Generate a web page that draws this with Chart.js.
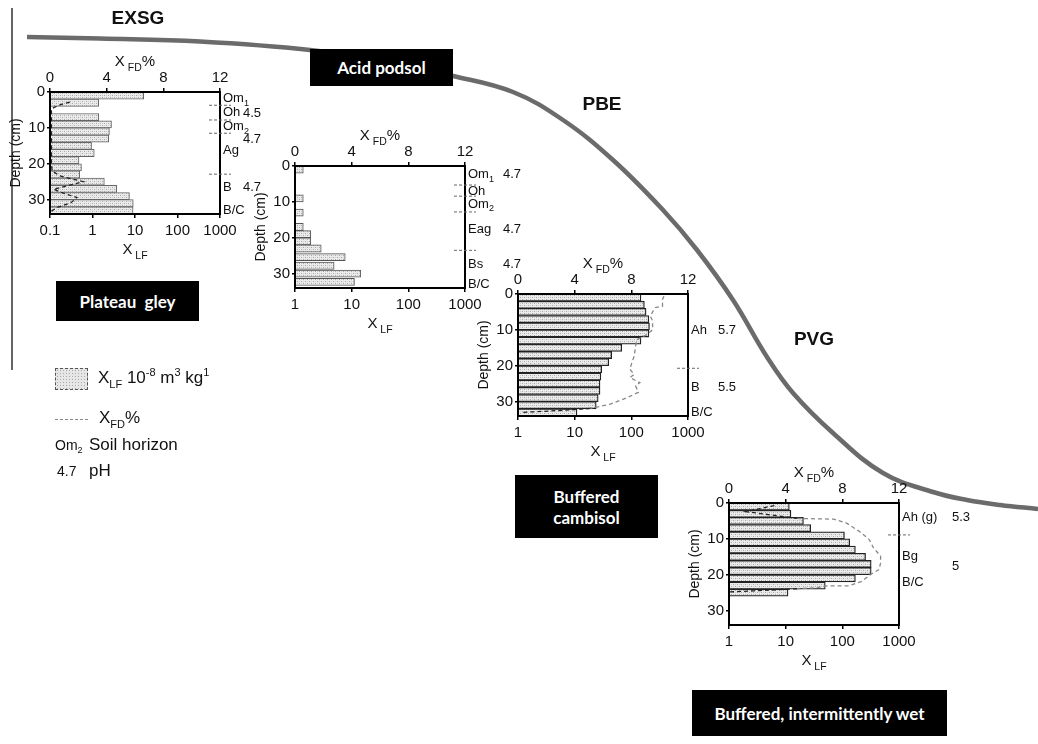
<!DOCTYPE html>
<html>
<head>
<meta charset="utf-8">
<script src="https://cdn.jsdelivr.net/npm/chart.js@4.4.0/dist/chart.umd.min.js"></script>
<style>
  body { margin: 0; background: #fff; width: 1038px; height: 744px; overflow: hidden; position: relative; font-family: "Liberation Sans", Arial, sans-serif; color: #111; }
  canvas { position: absolute; }
  .site { position: absolute; font-weight: bold; font-size: 19px; transform: translate(-50%, -50%); }
  .box { position: absolute; background: #000; color: #fff; font-family: Lato, sans-serif; font-weight: bold; font-size: 17px; line-height: 21px; display: flex; align-items: center; justify-content: center; text-align: center; }
  .leg { position: absolute; font-size: 17px; white-space: nowrap; transform: translateY(-50%); }
  .leg.small { font-size: 14px; }
  .leg sub, .leg sup { font-size: 11px; }
  .leg.small sub { font-size: 9px; }
  .swatch { position: absolute; left: 55px; top: 368px; width: 31px; height: 20px; border: 1px dashed #555;
    background-color: #e6e6e6; background-image: radial-gradient(#aaa 0.7px, transparent 0.8px); background-size: 3px 3px; }
  .dash { position: absolute; left: 55px; top: 419px; width: 33px; border-top: 1px dashed #888; }
</style>
</head>
<body>
<canvas id="bg" width="1038" height="744" style="left:0;top:0"></canvas>
<canvas id="gley"></canvas>
<canvas id="podsol"></canvas>
<canvas id="cambisol"></canvas>
<canvas id="wet"></canvas>

<div class="site" style="left:138px;top:18px">EXSG</div>
<div class="site" style="left:602px;top:104px">PBE</div>
<div class="site" style="left:814px;top:339px">PVG</div>

<div class="box" style="left:310px;top:49px;width:143px;height:37px">Acid podsol</div>
<div class="box" style="left:56px;top:281px;width:143px;height:40px;word-spacing:4px">Plateau gley</div>
<div class="box" style="left:515px;top:475px;width:143px;height:63px">Buffered<br>cambisol</div>
<div class="box" style="left:692px;top:690px;width:255px;height:46px">Buffered, intermittently wet</div>

<div class="swatch"></div>
<div class="leg" style="left:98px;top:378px">X<sub>LF</sub> 10<sup>-8</sup> m<sup>3</sup> kg<sup>1</sup></div>
<div class="dash"></div>
<div class="leg" style="left:99px;top:419px">X<sub>FD</sub>%</div>
<div class="leg small" style="left:55px;top:446px">Om<sub>2</sub></div>
<div class="leg" style="left:89px;top:445px">Soil horizon</div>
<div class="leg small" style="left:57px;top:471px">4.7</div>
<div class="leg" style="left:89px;top:471px">pH</div>

<script>
// shared axis ticks
const depthTicks = [0, 10, 20, 30];
const fdTicks = [0, 4, 8, 12];
const lfTicks = [0.1, 1, 10, 100, 1000];

// slope line across the landscape (page px)
const slopeX = [27, 100, 200, 310, 380, 453, 513, 563, 613, 663, 697, 733, 767, 793, 833, 883, 933, 967, 1000, 1038];
const slopeY = [37, 38.5, 41.5, 50, 61, 76, 92, 120, 160, 210, 250, 300, 357, 393, 433, 473, 492, 500, 505, 509];
const frameX = [12, 12];
const frameY = [8, 370];

// plateau gley
const gleyDepth = [1, 3, 7, 9, 11, 13, 15, 17, 19, 21, 23, 25, 27, 29, 31, 33];
const gleyLF = [16, 1.4, 1.4, 2.8, 2.5, 2.4, 0.95, 1.1, 0.48, 0.55, 0.5, 1.9, 3.7, 7.4, 9.1, 9.0];
const gleyFdDepth = [2.8, 3.7, 4.7, 10, 20, 22, 23.4, 25, 26.2, 27.1, 28, 29.4, 30.8, 32.2, 33.2];
const gleyFd = [1.4, 0.6, 0.1, 0.1, 0.1, 0.15, 0.7, 2.35, 1.2, 0.25, 0.8, 1.9, 1.5, 0.5, 0.1];
const gleyHorizon = ['Om_{1}', 'Oh', 'Om_{2}', 'Ag', 'B', 'B/C'];
const gleyHorizonDepth = [1.7, 5.6, 9.6, 16.4, 26.6, 33.1];
const gleyPH = ['4.5', '4.7', '4.7'];
const gleyPHDepth = [6.0, 13.1, 26.6];
const gleyBounds = [3.7, 7.8, 11.5, 22.9];

// acid podsol
const podsolDepth = [1, 9, 13, 17, 19, 21, 23, 25.4, 27.8, 30, 32.3];
const podsolLF = [1.4, 1.4, 1.4, 1.4, 1.9, 1.9, 2.9, 7.7, 4.9, 14.5, 11.2];
const podsolFdDepth = [];
const podsolFd = [];
const podsolHorizon = ['Om_{1}', 'Oh', 'Om_{2}', 'Eag', 'Bs', 'B/C'];
const podsolHorizonDepth = [2.4, 7, 10.6, 17.6, 27.4, 33];
const podsolPH = ['4.7', '4.7', '4.7'];
const podsolPHDepth = [2.4, 17.6, 27.4];
const podsolBounds = [5.3, 8.4, 12.8, 23.5];

// buffered cambisol
const cambDepth = [1, 3, 5, 7, 9, 11, 13, 15, 17, 19, 21, 23, 25, 27, 29, 31, 33];
const cambLF = [148, 170, 182, 204, 209, 204, 148, 68, 45, 40, 30, 29, 28, 28, 26, 24, 11];
const cambFdDepth = [0.6, 1.5, 3.4, 3.8, 5, 6.2, 7.5, 10, 11.5, 12.7, 14.5, 17.3, 19.6, 21, 22.4, 23.3, 24.7, 25.6, 27.4, 28.9, 30.7, 31.9, 32.3, 32.8, 33];
const cambFd = [10.3, 10.2, 10.2, 9.7, 9.5, 9.35, 9.5, 9.5, 9.0, 8.4, 8.3, 8.2, 8.0, 7.9, 8.2, 7.9, 8.6, 8.3, 8.5, 7.7, 6.5, 5.1, 3.7, 1.3, 0.2];
const cambHorizon = ['Ah', 'B', 'B/C'];
const cambHorizonDepth = [10.1, 26.1, 33];
const cambPH = ['5.7', '5.5'];
const cambPHDepth = [10.1, 26.1];
const cambBounds = [20.7];

// buffered, intermittently wet
const wetDepth = [1, 3, 5, 7, 9, 11, 13, 15, 17, 19, 21, 23, 25];
const wetLF = [11.6, 12.4, 20.6, 27.7, 109, 135, 170, 257, 323, 323, 170, 50, 11];
const wetFdDepth = [0.7, 2.4, 4.3, 4.5, 5.6, 7.9, 10.2, 12.5, 14.8, 16.7, 18.5, 19.9, 21.8, 23.1, 23.1, 23.6, 23.9, 24.5, 24.8];
const wetFd = [3.2, 1.2, 4.8, 7.4, 8.3, 9.2, 9.9, 10.2, 10.7, 10.7, 10.6, 10.0, 9.4, 8.45, 6.9, 6.2, 4.8, 1.7, 0];
const wetHorizon = ['Ah (g)', 'Bg', 'B/C'];
const wetHorizonDepth = [3.9, 15, 22];
const wetPH = ['5.3', '5'];
const wetPHDepth = [3.9, 17.8];
const wetBounds = [8.9];

const FONT = '"Liberation Sans", Arial, sans-serif';
Chart.defaults.font.family = FONT;
Chart.defaults.font.size = 15;
Chart.defaults.color = '#111';

// text with _{sub} and ^{sup} parts
function rich(ctx, str, x, y, size, align) {
  const parts = [];
  const re = /([_^])\{([^}]*)\}|([^_^]+)/g;
  let m;
  while ((m = re.exec(str))) {
    if (m[3]) parts.push({ t: m[3], s: 0 });
    else parts.push({ t: m[2], s: m[1] === '_' ? 1 : -1 });
  }
  let w = 0;
  parts.forEach(p => {
    ctx.font = (p.s ? size * 0.7 : size) + 'px ' + FONT;
    p.w = ctx.measureText(p.t).width;
    w += p.w;
  });
  let cx = align === 'center' ? x - w / 2 : x;
  ctx.textAlign = 'left';
  ctx.textBaseline = 'middle';
  parts.forEach(p => {
    ctx.font = (p.s ? size * 0.7 : size) + 'px ' + FONT;
    ctx.fillText(p.t, cx, y + p.s * size * 0.38);
    cx += p.w;
  });
}

function dots() {
  const c = document.createElement('canvas');
  c.width = 4; c.height = 4;
  const g = c.getContext('2d');
  g.fillStyle = '#ebebeb'; g.fillRect(0, 0, 4, 4);
  g.fillStyle = '#a9a9a9';
  g.fillRect(0, 0, 1, 1); g.fillRect(2, 2, 1, 1);
  g.fillStyle = '#cfcfcf';
  g.fillRect(2, 0, 1, 1); g.fillRect(0, 2, 1, 1);
  return g.createPattern(c, 'repeat');
}

const deco = {
  id: 'deco',
  afterDraw(chart, args, o) {
    const { ctx, chartArea: a } = chart;
    const y = chart.scales.y;
    ctx.save();
    ctx.strokeStyle = '#000';
    ctx.lineWidth = 2;
    ctx.strokeRect(a.left, a.top, a.right - a.left, a.bottom - a.top);
    ctx.fillStyle = '#111';
    const cx = (a.left + a.right) / 2;
    rich(ctx, 'X_{ FD}%', cx, a.top - 30, 15, 'center');
    rich(ctx, 'X_{ LF}', cx, a.bottom + 36, 15, 'center');
    o.horizon.forEach((t, i) => rich(ctx, t, a.right + 3, y.getPixelForValue(o.horizonDepth[i]), 13, 'left'));
    o.ph.forEach((t, i) => rich(ctx, t, a.right + o.phGap, y.getPixelForValue(o.phDepth[i]), 13, 'left'));
    ctx.setLineDash([3, 2]);
    ctx.strokeStyle = '#666';
    ctx.lineWidth = 1;
    o.bounds.forEach(d => {
      const py = y.getPixelForValue(d);
      ctx.beginPath();
      ctx.moveTo(a.right - 11, py);
      ctx.lineTo(a.right + 11, py);
      ctx.stroke();
    });
    ctx.restore();
  }
};

const tickGrid = { drawOnChartArea: false, offset: false, tickLength: 4, color: '#000', lineWidth: 1.5 };

function panel(id, plotLeft, plotTop, lfMin, depth, lf, fdDepth, fd, look, decoOpts) {
  const W = 42 + 170 + 80, H = 45 + 122 + 50;
  const cv = document.getElementById(id);
  cv.width = W; cv.height = H;
  cv.style.left = (plotLeft - 42) + 'px';
  cv.style.top = (plotTop - 45) + 'px';
  new Chart(cv, {
    type: 'bar',
    data: {
      datasets: [
        {
          type: 'line',
          data: fdDepth.map((d, i) => ({ x: fd[i], y: d })),
          xAxisID: 'x2', yAxisID: 'y',
          borderColor: look.fdColor, borderWidth: 1.3, borderDash: [4, 3],
          segment: { borderColor: c => Math.max(c.p0.parsed.x, c.p1.parsed.x) < 5.2 ? '#222' : look.fdColor },
          pointRadius: 0, fill: false, tension: 0
        },
        {
          type: 'bar',
          data: depth.map((d, i) => ({ x: lf[i], y: d })),
          xAxisID: 'x', yAxisID: 'y',
          backgroundColor: dots(), borderColor: look.barEdge, borderWidth: look.edgeWidth,
          categoryPercentage: 1, barPercentage: 1
        }
      ]
    },
    options: {
      indexAxis: 'y',
      responsive: false, animation: false, devicePixelRatio: 1,
      layout: { padding: { left: 0, top: 0, bottom: 0, right: 80 } },
      plugins: { legend: { display: false }, tooltip: { enabled: false }, deco: decoOpts },
      scales: {
        x: {
          type: 'logarithmic', position: 'bottom', min: lfMin, max: 1000,
          afterBuildTicks: s => { s.ticks = lfTicks.filter(v => v >= lfMin).map(v => ({ value: v })); },
          afterFit: s => { s.height = 50; },
          ticks: { callback: v => String(v), padding: 4, autoSkip: false, maxRotation: 0 },
          grid: tickGrid, border: { display: false }
        },
        x2: {
          type: 'linear', position: 'top', min: 0, max: 12,
          afterBuildTicks: s => { s.ticks = fdTicks.map(v => ({ value: v })); },
          afterFit: s => { s.height = 45; },
          ticks: { padding: 1, autoSkip: false, maxRotation: 0 },
          grid: tickGrid, border: { display: false }
        },
        y: {
          type: 'linear', reverse: true, min: 0, max: 34, offset: false,
          afterBuildTicks: s => { s.ticks = depthTicks.map(v => ({ value: v })); },
          afterFit: s => { s.width = 42; },
          ticks: { padding: 2, autoSkip: false },
          grid: Object.assign({}, tickGrid, { tickLength: 3 }),
          border: { display: false },
          title: { display: true, text: 'Depth (cm)', padding: 0, font: { size: 14 } }
        }
      }
    },
    plugins: [deco]
  });
}

new Chart(document.getElementById('bg'), {
  type: 'scatter',
  data: {
    datasets: [
      { data: slopeX.map((x, i) => ({ x, y: slopeY[i] })), showLine: true, borderColor: '#6b6b6b', borderWidth: 4.5, pointRadius: 0, tension: 0.4 },
      { data: frameX.map((x, i) => ({ x, y: frameY[i] })), showLine: true, borderColor: '#333', borderWidth: 1.5, pointRadius: 0 }
    ]
  },
  options: {
    responsive: false, animation: false, devicePixelRatio: 1,
    layout: { padding: 0 },
    plugins: { legend: { display: false }, tooltip: { enabled: false } },
    scales: {
      x: { type: 'linear', min: 0, max: 1038, display: false },
      y: { type: 'linear', min: 0, max: 744, reverse: true, display: false }
    }
  }
});

const soft = { fdColor: '#888', barEdge: '#555', edgeWidth: 1 };
const hard = { fdColor: '#888', barEdge: '#222', edgeWidth: 1.3 };

panel('gley', 50, 92, 0.1, gleyDepth, gleyLF, gleyFdDepth, gleyFd, { fdColor: '#222', barEdge: '#666', edgeWidth: 1 },
  { horizon: gleyHorizon, horizonDepth: gleyHorizonDepth, ph: gleyPH, phDepth: gleyPHDepth, phGap: 23, bounds: gleyBounds });
panel('podsol', 295, 166, 1, podsolDepth, podsolLF, podsolFdDepth, podsolFd, soft,
  { horizon: podsolHorizon, horizonDepth: podsolHorizonDepth, ph: podsolPH, phDepth: podsolPHDepth, phGap: 38, bounds: podsolBounds });
panel('cambisol', 518, 294, 1, cambDepth, cambLF, cambFdDepth, cambFd, hard,
  { horizon: cambHorizon, horizonDepth: cambHorizonDepth, ph: cambPH, phDepth: cambPHDepth, phGap: 30, bounds: cambBounds });
panel('wet', 729, 503, 1, wetDepth, wetLF, wetFdDepth, wetFd, hard,
  { horizon: wetHorizon, horizonDepth: wetHorizonDepth, ph: wetPH, phDepth: wetPHDepth, phGap: 53, bounds: wetBounds });
</script>
</body>
</html>
